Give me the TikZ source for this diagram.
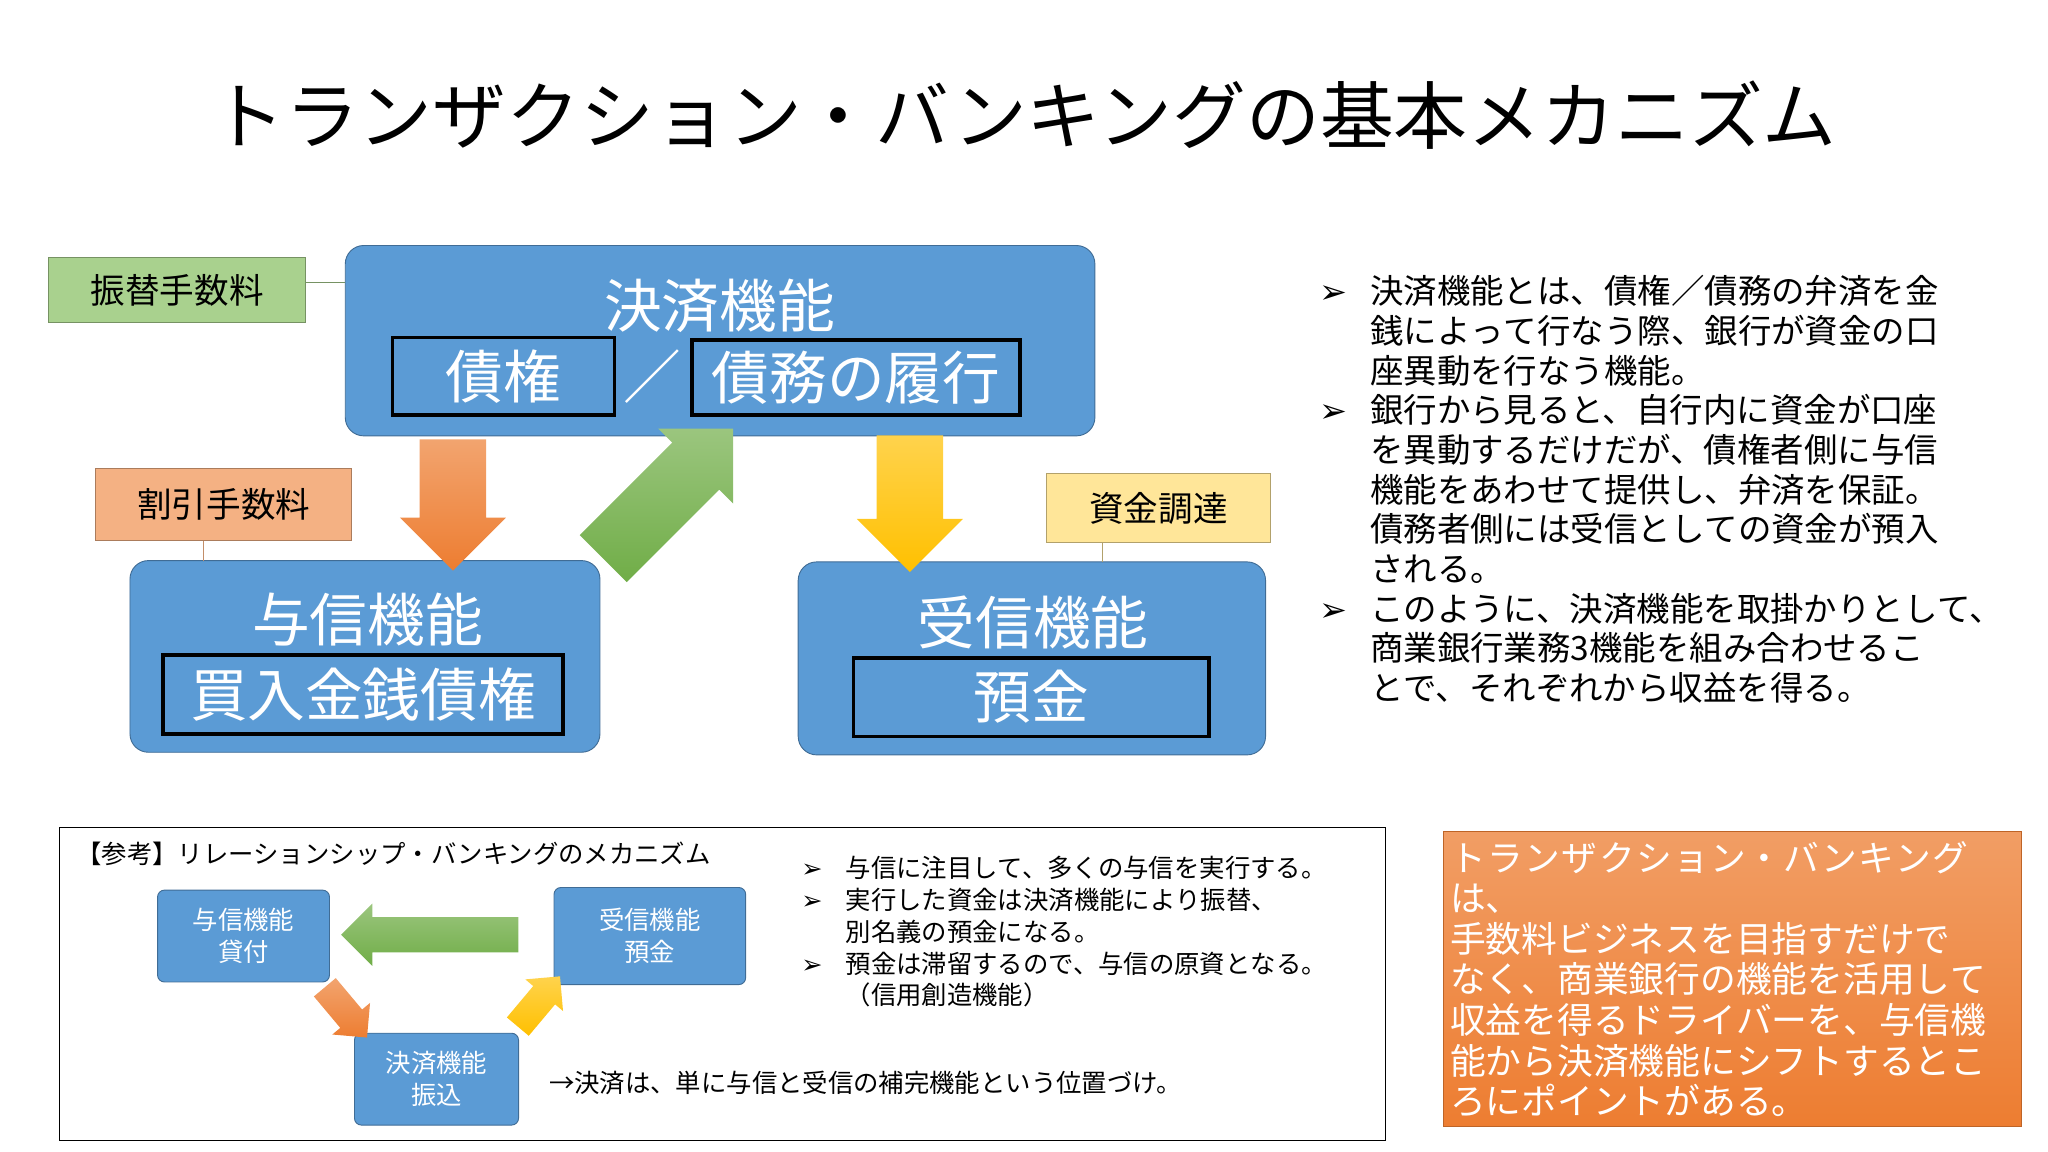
\documentclass[tikz,border=0pt]{standalone}
\usepackage{fontspec}
\setmainfont{Noto Sans CJK JP}
\newfontfamily\bulletfont{DejaVu Sans}
\XeTeXlinebreaklocale "ja"
\XeTeXlinebreakskip=0pt plus 1pt
\usetikzlibrary{shapes.arrows,positioning}
\definecolor{boxblue}{HTML}{5B9BD5}
\definecolor{boxgreen}{HTML}{A9D18E}
\definecolor{boxorange}{HTML}{F4B183}
\definecolor{boxyellow}{HTML}{FFE699}
\definecolor{arrorange}{HTML}{ED7D31}
\definecolor{arrgreen}{HTML}{70AD47}
\definecolor{arryellow}{HTML}{FFC000}
\newcommand{\bul}{{\bulletfont\char"27A2}}
\tikzset{
  fee/.style={draw=#1!70!black, fill=#1, text=black, font=\fontsize{15}{15}\selectfont, minimum height=1cm, inner sep=0pt},
  func/.style={draw=boxblue!70!black, fill=boxblue, rounded corners=8pt},
  inner/.style={draw=black, line width=1.6pt, text=white, font=\fontsize{25}{25}\selectfont, inner sep=0pt},
  small/.style={draw=boxblue!70!black, fill=boxblue, rounded corners=3pt, text=white, align=center, font=\fontsize{11}{14}\selectfont},
  fat/.style={single arrow, draw=none, minimum height=2cm, minimum width=1.6cm, single arrow head extend=0.3cm, inner xsep=0pt, inner ysep=0.5cm, top color=#1!70!white, bottom color=#1},
  btext/.style={anchor=north west, align=left, text width=#1},
}
\begin{document}
\begin{tikzpicture}[x=0.02cm,y=-0.02cm]
\useasboundingbox (0,0) rectangle (1560,877);
\node (title) at (780,88) {\fontsize{32}{32}\selectfont トランザクション・バンキングの基本メカニズム};

% upper diagram
\draw[func] (263,187) rectangle (834,332);
\node[text=white, font=\fontsize{25}{25}\selectfont] (kessai) at (548,233) {決済機能};
\node[inner, minimum width=3.38cm, minimum height=1.18cm] (saiken) at (383.5,286.5) {債権};
\node[text=white, font=\fontsize{25}{25}\selectfont] (slash) at (497,287) {／};
\node[inner, minimum width=5cm, minimum height=1.14cm] (saimu) at (652,287.5) {債務の履行};

\draw[func] (99,427) rectangle (457,573);
\node[text=white, font=\fontsize{25}{25}\selectfont] (yoshin) at (280,472) {与信機能};
\node[inner, minimum width=6.1cm, minimum height=1.2cm] (kainyu) at (276.5,529) {買入金銭債権};

\draw[func] (608,428) rectangle (964,575);
\node[text=white, font=\fontsize{25}{25}\selectfont] (jushin) at (787,474) {受信機能};
\node[inner, minimum width=5.42cm, minimum height=1.2cm] (yokin) at (785.5,531) {預金};

\node[fee=boxgreen, minimum width=3.92cm] (furikae) at (135,221) {振替手数料};
\node[fee=boxorange, minimum width=3.9cm, minimum height=1.1cm] (waribiki) at (170.5,384.5) {割引手数料};
\node[fee=boxyellow, minimum width=3.42cm, minimum height=1.04cm] (shikin) at (882.5,387) {資金調達};
\coordinate (c1) at (263,215);
\coordinate (c2) at (155,427);
\coordinate (c3) at (840,428);
\draw[boxgreen!70!black] (furikae.east |- c1) -- (c1);
\draw[boxorange!80!black] (waribiki.south -| c2) -- (c2);
\draw[boxyellow!70!black] (shikin.south -| c3) -- (c3);

\node[fat=arrorange, rotate=-90, minimum height=2.0cm] (a1) at (345,372) {};
\node[fat=arryellow, rotate=-90, minimum height=2.08cm] (a2) at (693,371) {};
\node[fat=arrgreen, rotate=45, minimum height=2.8cm] (a3) at (500,385) {};

\node[btext=10.6cm, font=\fontsize{14.5}{17.2}\selectfont] (notes) at (1000,195) {%
\begin{list}{\bul}{\leftmargin=0.75cm\labelsep=0.35cm\itemsep=0pt\parsep=0pt\topsep=0pt}
\item 決済機能とは、債権／債務の弁済を金\\銭によって行なう際、銀行が資金の口\\座異動を行なう機能。
\item 銀行から見ると、自行内に資金が口座\\を異動するだけだが、債権者側に与信\\機能をあわせて提供し、弁済を保証。\\債務者側には受信としての資金が預入\\される。
\item このように、決済機能を取掛かりとして、\\商業銀行業務3機能を組み合わせるこ\\とで、それぞれから収益を得る。
\end{list}};

% reference box
\draw (45,630) rectangle (1055,869);
\node[anchor=west, font=\fontsize{11}{11}\selectfont] (ref) at (52,650) {【参考】リレーションシップ・バンキングのメカニズム};
\node[small, minimum width=2.62cm, minimum height=1.4cm] (s1) at (185.5,713) {与信機能\\貸付};
\node[small, minimum width=2.92cm, minimum height=1.48cm] (s2) at (495,713) {受信機能\\預金};
\node[small, minimum width=2.5cm, minimum height=1.4cm] (s3) at (332.5,822) {決済機能\\振込};
\node[fat=arrgreen, rotate=180, minimum height=2.7cm, minimum width=0.95cm, inner ysep=0.25cm, single arrow head extend=0.2cm] (b1) at (334,712) {};
\node[fat=arrorange, rotate=-50, minimum height=1cm, minimum width=0.75cm, inner ysep=0.2cm, single arrow head extend=0.15cm] (b2) at (260,767) {};
\node[fat=arryellow, rotate=50, minimum height=1cm, minimum width=0.75cm, inner ysep=0.2cm, single arrow head extend=0.15cm] (b3) at (407,767) {};
\node[anchor=west, font=\fontsize{11}{11}\selectfont] (kessaiNote) at (412,825) {→決済は、単に与信と受信の補完機能という位置づけ。};
\node[btext=9.2cm, font=\fontsize{11}{13.8}\selectfont] (refnotes) at (598,638) {%
\begin{list}{\bul}{\leftmargin=0.8cm\labelsep=0.35cm\itemsep=0pt\parsep=0pt\topsep=0pt}
\item 与信に注目して、多くの与信を実行する。
\item 実行した資金は決済機能により振替、\\別名義の預金になる。
\item 預金は滞留するので、与信の原資となる。\\（信用創造機能）
\end{list}};

% conclusion
\node[draw=arrorange!80!black, top color=arrorange!75!white, bottom color=arrorange, text=white, anchor=north west, minimum width=8.74cm, minimum height=4.5cm, text width=8.6cm, inner sep=3pt, align=left, font=\fontsize{15.5}{17.6}\selectfont] (concl) at (1099,633) {トランザクション・バンキングは、\\手数料ビジネスを目指すだけで\\なく、商業銀行の機能を活用して\\収益を得るドライバーを、与信機\\能から決済機能にシフトするとこ\\ろにポイントがある。};
\end{tikzpicture}
\end{document}
